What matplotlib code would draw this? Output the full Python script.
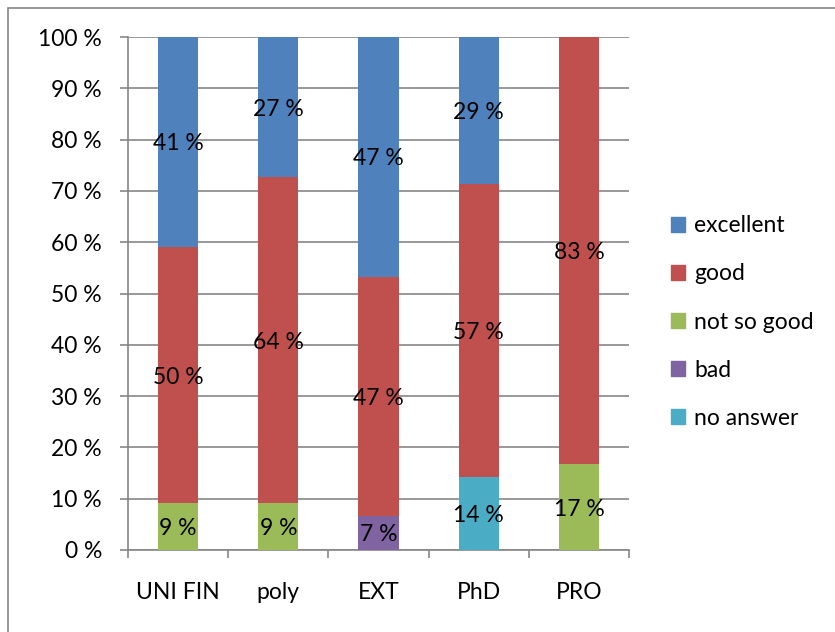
import matplotlib
matplotlib.use("Agg")
import matplotlib.pyplot as plt
import numpy as np
from matplotlib.patches import Rectangle, Patch

plt.rcParams['font.family'] = ['Lato', 'DejaVu Sans']

categories = ["UNI FIN", "poly", "EXT", "PhD", "PRO"]
series_names = ["no answer", "bad", "not so good", "good", "excellent"]  # bottom -> top
no_answer   = [0.0, 0.0, 0.0, 14.3, 0.0]
bad         = [0.0, 0.0, 6.7, 0.0, 0.0]
not_so_good = [9.1, 9.1, 0.0, 0.0, 16.7]
good        = [50.0, 63.6, 46.6, 57.1, 83.3]
excellent   = [40.9, 27.3, 46.7, 28.6, 0.0]
series_values = [no_answer, bad, not_so_good, good, excellent]
colors = ["#4BACC6", "#8064A2", "#9BBB59", "#C0504D", "#4F81BD"]
y_ticks = [0, 10, 20, 30, 40, 50, 60, 70, 80, 90, 100]
y_tick_labels = [f"{v} %" for v in y_ticks]

W, H = 835, 632
fig = plt.figure(figsize=(W/100, H/100), dpi=100)
ax = fig.add_axes([128/W, 1-550/H, (629-128)/W, (550-37)/H])

fs = 16.5
gray = "#868686"
x = np.arange(len(categories))
bottom = np.zeros(len(categories))
for name, vals, c in zip(series_names, series_values, colors):
    vals = np.array(vals)
    ax.bar(x, vals, 0.4, bottom=bottom, color=c, label=name, zorder=3)
    for xi, v, bt in zip(x, vals, bottom):
        if v > 0:
            ax.text(xi, bt + v/2, f"{v:.0f} %", ha="center", va="center_baseline",
                    fontsize=fs, color="black", zorder=4)
    bottom += vals

ax.set_xlim(-0.5, len(categories)-0.5)
ax.set_ylim(0, 100)
ax.set_yticks(y_ticks)
ax.set_yticklabels(y_tick_labels, fontsize=fs)
ax.set_xticks(x)
ax.set_xticklabels(categories, fontsize=fs)
ax.set_xticks(np.arange(-0.5, len(categories)), minor=True)
ax.tick_params(axis="x", which="major", length=0, pad=23)
ax.tick_params(axis="x", which="minor", length=5.8, color=gray, width=1.2)
ax.tick_params(axis="y", length=5.8, color=gray, width=1.2, pad=13)
ax.yaxis.grid(True, color=gray, linewidth=1.2, zorder=0)
ax.set_axisbelow(True)
for s in ["top", "right"]:
    ax.spines[s].set_visible(False)
for s in ["left", "bottom"]:
    ax.spines[s].set_color(gray)
    ax.spines[s].set_linewidth(1.2)

handles = [Patch(color=c, label=n) for n, c in zip(series_names, colors)][::-1]
fig.legend(handles=handles, loc="center left", bbox_to_anchor=(671/W, 1-322/H),
           frameon=False, fontsize=fs, handlelength=0.61, handleheight=0.61,
           handletextpad=0.4, labelspacing=1.18, borderpad=0, borderaxespad=0)

fig.patches.append(Rectangle((8/W, -0.1), 1.2, 1-8/H+0.1, transform=fig.transFigure,
                             fill=False, edgecolor=gray, linewidth=1.2))

fig.savefig("out.png", dpi=100)
